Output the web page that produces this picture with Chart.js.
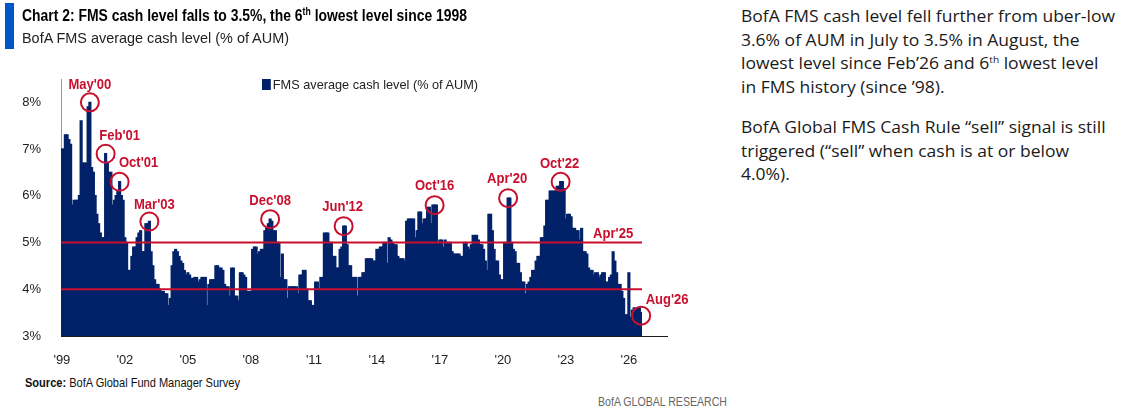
<!DOCTYPE html>
<html>
<head>
<meta charset="utf-8">
<script src="https://cdn.jsdelivr.net/npm/chart.js@4.4.1/dist/chart.umd.min.js"></script>
<style>
  html, body { margin: 0; padding: 0; background: #fff; }
  body { width: 1129px; height: 419px; position: relative; overflow: hidden; font-family: 'Liberation Sans', Arial, sans-serif; color: #111; }
  .abs { position: absolute; white-space: nowrap; transform-origin: 0 50%; z-index: 2; }
  #bar { position: absolute; left: 5px; top: 3px; width: 9px; height: 46px; background: #0055c8; }
  #title { left: 22px; top: 6px; font-weight: bold; font-size: 16px; line-height: 20px; color: #000; }
  #title sup { font-size: 10px; line-height: 0; vertical-align: 6px; }
  #subtitle { left: 22px; top: 28px; font-size: 15px; line-height: 20px; color: #222; }
  #legend { left: 262px; top: 78px; font-size: 13px; line-height: 14px; color: #222; }
  #legend i { display: inline-block; width: 9px; height: 11px; background: #012169; vertical-align: -1px; margin-right: 2px; }
  #source { left: 25px; top: 375px; font-size: 12px; line-height: 16px; color: #111; }
  #research { left: 598px; top: 394px; font-size: 12px; line-height: 16px; color: #666; }
  #notes { left: 741px; top: 5px; font-family: 'Open Sans', sans-serif; font-size: 15.5px; line-height: 23.7px; color: #1a1a1a; transform-origin: 0 0; }
  #notes p { margin: 0 0 16px 0; }
  #notes sup { font-size: 9px; line-height: 0; vertical-align: 6px; }
  #wrap { position: absolute; left: 0; top: 0; width: 700px; height: 370px; z-index: 1; }
</style>
</head>
<body>
<div id="bar"></div>
<div id="title" class="abs" data-w="445">Chart 2: FMS cash level falls to 3.5%, the 6<sup>th</sup> lowest level since 1998</div>
<div id="subtitle" class="abs" data-w="267">BofA FMS average cash level (% of AUM)</div>
<div id="legend" class="abs" data-w="216"><i></i>FMS average cash level (% of AUM)</div>
<div id="source" class="abs" data-w="215"><b>Source:</b> BofA Global Fund Manager Survey</div>
<div id="research" class="abs" data-w="129">BofA GLOBAL RESEARCH</div>
<div id="notes" class="abs">
  <p><span id="firstLine">BofA FMS cash level fell further from uber-low</span><br>3.6% of AUM in July to 3.5% in August, the<br>lowest level since Feb’26 and 6<sup>th</sup> lowest level<br>in FMS history (since ’98).</p>
  <p>BofA Global FMS Cash Rule “sell” signal is still<br>triggered (“sell” when cash is at or below<br>4.0%).</p>
</div>
<div id="wrap"><canvas id="cashChart"></canvas></div>

<script>
// BofA FMS average cash level (% of AUM), monthly, Jan 1999 - Aug 2026
const startYear = 1999
const cash1999 = [7.0, 7.0, 7.3, 7.3, 7.2, 7.1, 5.8, 5.9, 5.9, 5.9, 6.0, 7.6]
const cash2000 = [6.7, 6.7, 6.7, 7.9, 8.0, 6.6, 6.5, 6.0, 5.6, 5.4, 5.2, 5.1]
const cash2001 = [5.1, 6.9, 6.7, 6.5, 6.5, 5.8, 5.9, 6.0, 6.1, 6.3, 6.0, 5.9]
const cash2002 = [5.1, 5.0, 4.4, 4.4, 4.7, 4.9, 4.9, 5.1, 5.2, 5.25, 4.8, 4.8]
const cash2003 = [5.4, 5.4, 5.45, 4.8, 4.5, 4.2, 4.1, 4.1, 4.0, 3.95, 3.95, 3.9]
const cash2004 = [3.9, 3.65, 3.8, 4.5, 4.8, 4.85, 4.8, 4.7, 4.6, 4.55, 4.4, 4.3]
const cash2005 = [4.35, 4.3, 4.23, 4.23, 4.25, 4.25, 4.15, 4.2, 4.25, 4.25, 4.25, 3.65]
const cash2006 = [4.1, 4.2, 4.2, 4.2, 4.5, 4.5, 4.45, 4.45, 4.4, 4.1, 4.05, 4.05]
const cash2007 = [3.85, 4.45, 4.45, 3.85, 3.85, 3.75, 4.35, 4.35, 4.3, 4.25, 3.95, 3.95]
const cash2008 = [3.95, 4.85, 4.9, 4.9, 4.75, 4.8, 4.85, 4.85, 5.25, 5.3, 5.4, 5.5]
const cash2009 = [5.45, 5.25, 5.25, 5.0, 5.0, 4.25, 4.75, 4.2, 4.2, 3.8, 4.05, 4.05]
const cash2010 = [4.05, 4.05, 4.05, 3.9, 4.3, 4.3, 4.4, 4.4, 4.0, 3.75, 3.75, 3.65]
const cash2011 = [3.65, 4.15, 4.15, 4.0, 4.25, 4.25, 5.2, 5.2, 5.2, 5.0, 5.0, 4.7]
const cash2012 = [4.7, 4.45, 4.45, 4.85, 4.9, 5.35, 5.35, 4.95, 4.5, 4.5, 4.25, 4.25]
const cash2013 = [4.25, 3.85, 4.25, 4.25, 4.35, 4.35, 4.65, 4.65, 4.65, 4.65, 4.6, 4.6]
const cash2014 = [4.85, 4.85, 4.9, 4.9, 5.0, 5.0, 4.55, 5.1, 5.05, 5.0, 4.95, 4.95]
const cash2015 = [4.7, 4.65, 4.65, 4.65, 4.6, 5.45, 5.5, 5.5, 5.5, 5.5, 5.1, 5.25]
const cash2016 = [5.65, 5.65, 5.4, 5.5, 5.5, 5.75, 5.75, 5.4, 5.8, 5.8, 5.8, 5.0]
const cash2017 = [5.05, 5.05, 4.9, 5.05, 5.0, 5.0, 5.0, 4.8, 4.75, 4.75, 4.75, 4.75]
const cash2018 = [4.7, 4.7, 5.0, 5.0, 4.9, 4.85, 4.95, 5.15, 5.15, 5.15, 5.05, 4.95]
const cash2019 = [4.95, 4.85, 4.6, 4.4, 5.6, 5.6, 5.25, 4.85, 4.6, 4.6, 4.3, 4.2]
const cash2020 = [4.2, 5.0, 5.0, 5.95, 5.95, 5.0, 4.85, 4.8, 4.55, 4.55, 4.35, 4.15]
const cash2021 = [4.15, 3.9, 4.1, 4.15, 4.25, 4.4, 4.4, 4.6, 4.7, 4.7, 5.1, 5.1]
const cash2022 = [5.35, 5.9, 5.9, 6.1, 6.1, 6.1, 6.1, 6.2, 6.2, 6.3, 6.3, 6.15]
const cash2023 = [5.5, 5.6, 5.6, 5.55, 5.3, 5.3, 5.25, 5.25, 5.05, 5.3, 4.8, 4.8]
const cash2024 = [4.75, 4.45, 4.4, 4.4, 4.3, 4.35, 4.35, 4.25, 4.3, 4.35, 4.35, 4.15]
const cash2025 = [4.15, 4.25, 4.3, 4.8, 4.6, 4.35, 4.1, 4.1, 3.95, 3.8, 3.45, 3.45]
const cash2026 = [4.35, 3.4, 3.55, 3.6, 3.55, 3.6, 3.6, 3.5]

const cashLevel = [].concat(cash1999, cash2000, cash2001, cash2002, cash2003, cash2004,
  cash2005, cash2006, cash2007, cash2008, cash2009, cash2010, cash2011, cash2012,
  cash2013, cash2014, cash2015, cash2016, cash2017, cash2018, cash2019, cash2020,
  cash2021, cash2022, cash2023, cash2024, cash2025, cash2026)

const monthNames = ['Jan', 'Feb', 'Mar', 'Apr', 'May', 'Jun', 'Jul', 'Aug', 'Sep', 'Oct', 'Nov', 'Dec']
const months = cashLevel.map((v, i) => `${monthNames[i % 12]} ${startYear + Math.floor(i / 12)}`)

const tickYears = [1999, 2002, 2005, 2008, 2011, 2014, 2017, 2020, 2023, 2026]
const tickLabels = ["'99", "'02", "'05", "'08", "'11", "'14", "'17", "'20", "'23", "'26"]
const yTicks = [3, 4, 5, 6, 7, 8]

// horizontal rule levels (% of AUM)
const ruleLevels = [5.0, 4.0]

// circled highlights: year, month (1-12)
const peakNotes = [
  { text: "May'00", year: 2000, month: 5, dx: 0, dy: -18 },
  { text: "Feb'01", year: 2001, month: 2, dx: 14, dy: -18 },
  { text: "Oct'01", year: 2001, month: 10, dx: 19, dy: -19 },
  { text: "Mar'03", year: 2003, month: 3, dx: 5, dy: -17 },
  { text: "Dec'08", year: 2008, month: 12, dx: 0, dy: -18 },
  { text: "Jun'12", year: 2012, month: 6, dx: -1, dy: -19 },
  { text: "Oct'16", year: 2016, month: 10, dx: 0, dy: -19 },
  { text: "Apr'20", year: 2020, month: 4, dx: -1, dy: -19 },
  { text: "Oct'22", year: 2022, month: 10, dx: -1, dy: -18 },
  { text: "Aug'26", year: 2026, month: 8, dx: 26, dy: -16, cy: 3 }
]
const lineNotes = [
  { text: "Apr'25", year: 2025, month: 4, level: 5.0, dy: -9 }
]

const navy = '#012169'
const red = '#c8102e'

const monthIndex = (year, month) => (year - startYear) * 12 + month - 1

const notesPlugin = {
  id: 'notes',
  afterDatasetsDraw (chart) {
    const { ctx, chartArea } = chart
    const x = chart.scales.x
    const y = chart.scales.y
    ctx.save()

    // base line
    ctx.strokeStyle = '#1a1a1a'
    ctx.lineWidth = 1.2
    ctx.beginPath()
    ctx.moveTo(chartArea.left, chartArea.bottom + 0.5)
    ctx.lineTo(chartArea.right + 26, chartArea.bottom + 0.5)
    ctx.stroke()

    // 4% and 5% rules
    ctx.strokeStyle = red
    ctx.lineWidth = 2
    ruleLevels.forEach(level => {
      const py = y.getPixelForValue(level)
      ctx.beginPath()
      ctx.moveTo(chartArea.left, py)
      ctx.lineTo(chartArea.right, py)
      ctx.stroke()
    })

    ctx.font = 'bold 15px "Liberation Sans", Arial, sans-serif'
    ctx.textAlign = 'center'
    ctx.textBaseline = 'middle'
    ctx.fillStyle = red
    const sx = 43 / ctx.measureText("May'00").width

    const drawLabel = (text, px, py) => {
      ctx.save()
      ctx.translate(px, py)
      ctx.scale(sx, 1)
      ctx.fillText(text, 0, 0)
      ctx.restore()
    }

    peakNotes.forEach(note => {
      const i = monthIndex(note.year, note.month)
      const cx = x.getPixelForValue(i)
      const cy = y.getPixelForValue(cashLevel[i]) + (note.cy || 0)
      ctx.beginPath()
      ctx.arc(cx, cy, 9, 0, Math.PI * 2)
      ctx.stroke()
      drawLabel(note.text, cx + note.dx, cy + note.dy)
    })

    lineNotes.forEach(note => {
      const i = monthIndex(note.year, note.month)
      drawLabel(note.text, x.getPixelForValue(i), y.getPixelForValue(note.level) + note.dy)
    })

    ctx.restore()
  }
}

new Chart(document.getElementById('cashChart').getContext('2d'), {
  type: 'bar',
  data: {
    labels: months,
    datasets: [{
      label: 'FMS average cash level (% of AUM)',
      data: cashLevel,
      backgroundColor: navy,
      borderWidth: 0,
      inflateAmount: 0.7,
      barPercentage: 1,
      categoryPercentage: 1
    }]
  },
  options: {
    responsive: true,
    maintainAspectRatio: false,
    animation: false,
    layout: { padding: { top: 79, right: 58, left: 0, bottom: 0 } },
    plugins: {
      legend: { display: false },
      tooltip: { enabled: false }
    },
    scales: {
      x: {
        offset: true,
        grid: { display: false },
        border: { display: false },
        afterFit: (scale) => { scale.height = 34 },
        ticks: {
          autoSkip: false,
          maxRotation: 0,
          minRotation: 0,
          padding: 9,
          color: '#222',
          font: { family: '"Liberation Sans", Arial, sans-serif', size: 13 },
          callback: (value, index) => {
            if (index % 12 !== 0) return ''
            const k = tickYears.indexOf(startYear + index / 12)
            return k >= 0 ? tickLabels[k] : ''
          }
        }
      },
      y: {
        min: 3,
        max: 8.5,
        grid: { display: false },
        border: { display: true, color: '#9a9a9a', width: 1 },
        afterFit: (scale) => { scale.width = 61 },
        afterBuildTicks: (scale) => {
          scale.ticks = yTicks.map(v => ({ value: v }))
        },
        ticks: {
          padding: 12,
          color: '#222',
          font: { family: '"Liberation Sans", Arial, sans-serif', size: 13 },
          callback: (value) => `${value}%`
        }
      }
    }
  },
  plugins: [notesPlugin]
})

// squeeze html text to the reference widths
function fitText () {
  document.querySelectorAll('[data-w]').forEach(el => {
    el.style.transform = 'none'
    const w = el.getBoundingClientRect().width
    el.style.transform = `scaleX(${el.dataset.w / w})`
  })
  const notes = document.getElementById('notes')
  notes.style.transform = 'none'
  const w1 = document.getElementById('firstLine').getBoundingClientRect().width
  notes.style.transform = `scaleX(${374 / w1})`
}
fitText()
if (document.fonts) document.fonts.ready.then(fitText)
</script>
</body>
</html>
